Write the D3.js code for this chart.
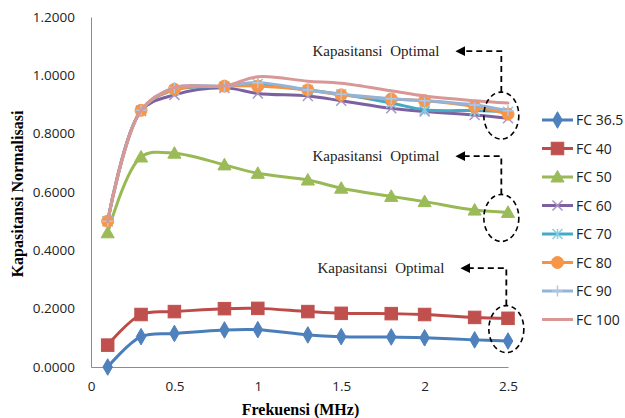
<!DOCTYPE html>
<html><head><meta charset="utf-8">
<script src="https://cdn.jsdelivr.net/npm/d3@7"></script>
<style>
html,body{margin:0;padding:0;background:#fff;}
svg{display:block;}
</style></head>
<body>
<svg id="chart" width="625" height="418"></svg>
<script>
const freq = [0.1, 0.3, 0.5, 0.8, 1.0, 1.3, 1.5, 1.8, 2.0, 2.3, 2.5];
const seriesNames = ["FC 36.5","FC 40","FC 50","FC 60","FC 70","FC 80","FC 90","FC 100"];
const fc365 = [0.000, 0.104, 0.115, 0.127, 0.128, 0.110, 0.104, 0.103, 0.100, 0.093, 0.089];
const fc40  = [0.075, 0.180, 0.190, 0.200, 0.201, 0.190, 0.184, 0.183, 0.180, 0.170, 0.167];
const fc50  = [0.460, 0.720, 0.733, 0.693, 0.664, 0.641, 0.613, 0.585, 0.567, 0.538, 0.530];
const fc60  = [0.500, 0.878, 0.933, 0.957, 0.938, 0.929, 0.913, 0.887, 0.876, 0.864, 0.853];
const fc70  = [0.500, 0.880, 0.950, 0.962, 0.970, 0.950, 0.935, 0.905, 0.882, 0.879, 0.875];
const fc80  = [0.500, 0.880, 0.952, 0.963, 0.963, 0.950, 0.933, 0.919, 0.913, 0.893, 0.867];
const fc90  = [0.500, 0.880, 0.958, 0.963, 0.975, 0.950, 0.935, 0.920, 0.913, 0.898, 0.879];
const fc100 = [0.500, 0.880, 0.958, 0.963, 0.995, 0.980, 0.973, 0.947, 0.929, 0.913, 0.905];
const seriesValues = [fc365, fc40, fc50, fc60, fc70, fc80, fc90, fc100];
const yTicks = [0, 0.2, 0.4, 0.6, 0.8, 1.0, 1.2];
const xTicks = [0, 0.5, 1, 1.5, 2, 2.5];
const annotationLabel = "Kapasitansi Optimal";
const xTitle = "Frekuensi (MHz)";
const yTitle = "Kapasitansi Normalisasi";
// annotation anchor points (data coords): ellipse centre and arrow level
const annotations = [
  {cx: 2.46, cy: 0.862, ty: 1.083},
  {cx: 2.46, cy: 0.511, ty: 0.723},
  {cx: 2.49, cy: 0.130, ty: 0.339}
];

const styles = [
  {color:"#4A7EBB", mfill:"#4F81BD", mstroke:"#4F81BD", marker:"diamond"},
  {color:"#BE4B48", mfill:"#C0504D", mstroke:"#C0504D", marker:"square"},
  {color:"#98B954", mfill:"#9BBB59", mstroke:"#9BBB59", marker:"triangle"},
  {color:"#7D60A0", mfill:"none", mstroke:"#A895C6", marker:"x"},
  {color:"#46AAC5", mfill:"none", mstroke:"#86CEE2", marker:"asterisk"},
  {color:"#F69240", mfill:"#F79646", mstroke:"#F79646", marker:"circle"},
  {color:"#95B3D7", mfill:"none", mstroke:"#B1C7E3", marker:"plus"},
  {color:"#D99795", mfill:"none", mstroke:"none", marker:"none"}
];

const svg = d3.select("#chart");
const x = d3.scaleLinear().domain([0, 2.5]).range([91, 508]);
const y = d3.scaleLinear().domain([0, 1.2]).range([367, 17]);

// axes
const yAxis = d3.axisLeft(y).tickValues(yTicks).tickSize(0).tickPadding(16).tickFormat(d3.format(".4f"));
const gy = svg.append("g").attr("transform", `translate(${x(0)},0)`).call(yAxis);
gy.select(".domain").attr("stroke", "#8c8c8c").attr("stroke-width", 1);
gy.selectAll("text").attr("font-family", "'Open Sans', sans-serif").attr("font-size", 13.5).attr("fill", "#222");

const xAxis = d3.axisBottom(x).tickValues(xTicks).tickSize(0).tickPadding(14).tickFormat(d3.format("~g"));
const gx = svg.append("g").attr("transform", `translate(0,${y(0)})`).call(xAxis);
gx.select(".domain").attr("stroke", "#8c8c8c").attr("stroke-width", 1);
gx.selectAll("text").attr("font-family", "'Open Sans', sans-serif").attr("font-size", 13.5).attr("fill", "#222");

// titles
svg.append("text").attr("x", (x(0)+x(2.5))/2 + 1).attr("y", 415)
  .attr("text-anchor", "middle").attr("font-family", "'Liberation Serif', 'Times New Roman', serif")
  .attr("font-weight", "bold").attr("font-size", 16).text(xTitle);
svg.append("text").attr("transform", `translate(23,${(y(0)+y(1.2))/2 + 2}) rotate(-90)`)
  .attr("text-anchor", "middle").attr("font-family", "'Liberation Serif', 'Times New Roman', serif")
  .attr("font-weight", "bold").attr("font-size", 16).text(yTitle);

// marker drawer
function drawMarker(g, type, st, size) {
  const s = size/2;
  if (type === "diamond") {
    g.append("path").attr("d", d3.symbol().type(d3.symbolDiamond).size(size*size*0.55)())
      .attr("fill", st.mfill).attr("stroke", st.mstroke);
  } else if (type === "square") {
    g.append("rect").attr("x", -s).attr("y", -s).attr("width", size).attr("height", size)
      .attr("fill", st.mfill).attr("stroke", st.mstroke);
  } else if (type === "triangle") {
    g.append("path").attr("d", `M0,${-s*1.05}L${s*1.05},${s*0.8}L${-s*1.05},${s*0.8}Z`)
      .attr("fill", st.mfill).attr("stroke", st.mstroke);
  } else if (type === "circle") {
    g.append("circle").attr("r", s).attr("fill", st.mfill).attr("stroke", st.mstroke);
  } else if (type === "x") {
    g.append("path").attr("d", `M${-s},${-s}L${s},${s}M${-s},${s}L${s},${-s}`)
      .attr("stroke", st.mstroke).attr("stroke-width", 1.5).attr("fill", "none");
  } else if (type === "asterisk") {
    g.append("path").attr("d", `M${-s},${-s}L${s},${s}M${-s},${s}L${s},${-s}M0,${-s}L0,${s}`)
      .attr("stroke", st.mstroke).attr("stroke-width", 1.5).attr("fill", "none");
  } else if (type === "plus") {
    g.append("path").attr("d", `M${-s},0L${s},0M0,${-s}L0,${s}`)
      .attr("stroke", st.mstroke).attr("stroke-width", 1.5).attr("fill", "none");
  }
}
const markerSize = {diamond: 12, square: 12.5, triangle: 12.5, circle: 12, x: 10, asterisk: 10, plus: 11, none: 0};

const line = d3.line().x(d => x(d[0])).y(d => y(d[1])).curve(d3.curveCatmullRom.alpha(0.5));

seriesValues.forEach((vals, i) => {
  const st = styles[i];
  const pts = freq.map((f, j) => [f, vals[j]]);
  const g = svg.append("g");
  g.append("path").attr("d", line(pts)).attr("fill", "none").attr("stroke", st.color)
    .attr("stroke-width", 3).attr("stroke-linejoin", "round").attr("stroke-linecap", "round");
  pts.forEach(p => {
    const m = g.append("g").attr("transform", `translate(${x(p[0])},${y(p[1])})`);
    drawMarker(m, st.marker, st, markerSize[st.marker]);
  });
});

// legend
const lg = svg.append("g");
seriesNames.forEach((name, i) => {
  const st = styles[i];
  const ly = 120 + i*28.5;
  lg.append("line").attr("x1", 542).attr("x2", 573).attr("y1", ly).attr("y2", ly)
    .attr("stroke", st.color).attr("stroke-width", 3);
  const m = lg.append("g").attr("transform", `translate(557.5,${ly})`);
  drawMarker(m, st.marker, st, markerSize[st.marker]);
  lg.append("text").attr("x", 576).attr("y", ly + 5).attr("font-family", "'Open Sans', sans-serif")
    .attr("font-size", 14).attr("fill", "#222").text(name);
});

// annotations
const ag = svg.append("g");
ag.append("defs").append("marker").attr("id", "arr").attr("viewBox", "0 0 10 10")
  .attr("refX", 2).attr("refY", 5).attr("markerWidth", 5.5).attr("markerHeight", 5.5)
  .attr("orient", "auto-start-reverse").append("path").attr("d", "M0,0L10,5L0,10Z").attr("fill", "#000");
annotations.forEach((a, i) => {
  const cx = x(a.cx), cy = y(a.cy), ry = 23.5, rx = 17.5;
  const ty = y(a.ty);
  ag.append("ellipse").attr("cx", cx).attr("cy", cy).attr("rx", rx).attr("ry", ry)
    .attr("fill", "none").attr("stroke", "#000").attr("stroke-width", 1.6).attr("stroke-dasharray", "5,3.5");
  ag.append("path").attr("d", `M${cx},${cy - ry}L${cx},${ty}L${cx - 38},${ty}`)
    .attr("fill", "none").attr("stroke", "#000").attr("stroke-width", 1.8).attr("stroke-dasharray", "6,4")
    .attr("marker-end", "url(#arr)");
  ag.append("text").attr("x", cx - 62).attr("y", ty + 5).attr("text-anchor", "end")
    .attr("font-family", "'Liberation Serif', 'Times New Roman', serif").attr("font-size", 15)
    .attr("word-spacing", 4).attr("fill", "#222").text(annotationLabel);
});
</script>
</body></html>
